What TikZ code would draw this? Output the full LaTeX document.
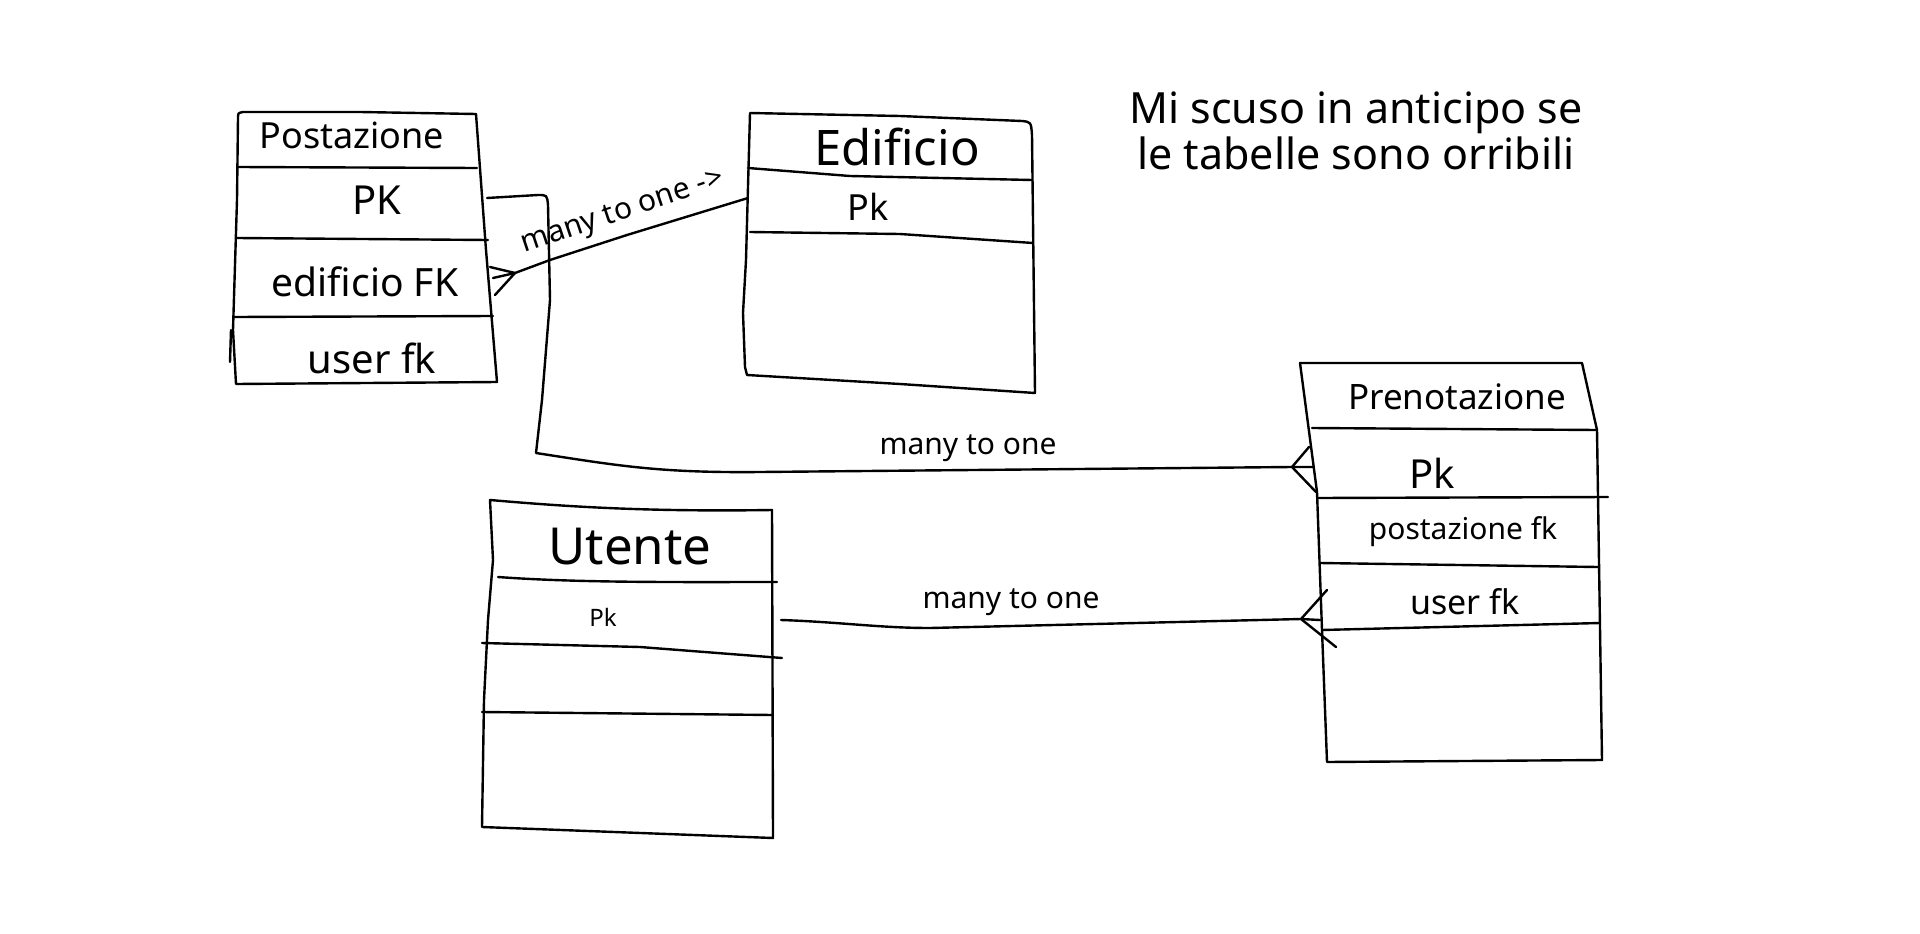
\documentclass[tikz,border=0pt]{standalone}
\usepackage{fontspec}
\setmainfont{Noto Sans}
\begin{document}
\begin{tikzpicture}[x=1pt, y=-1pt, line width=2.4pt, line join=round, line cap=round]
	\tikzset{
		cell/.style={inner sep=0pt},
		rel/.style={inner sep=0pt, font=\fontsize{30}{34}\selectfont},
	}
	% Define the page
	\useasboundingbox[fill=white] (0,0) rectangle (1920,934);

	% Postazione table
	\draw (243,112) -- (360,112) -- (476,114) -- (486,250) -- (497,382) -- (236,384) -- (233,330) -- (237,200) -- (238,118) .. controls (238,113) .. (243,112);
	\draw (238,167) -- (477,168);
	\draw (237,238) -- (488,240);
	\draw (234,317) -- (493,316);
	\draw (231,330) -- (230,362);
	\node[cell, font=\fontsize{36}{40}\selectfont] (pos-name) at (352,135) {Postazione};
	\node[cell, font=\fontsize{40}{44}\selectfont] (pos-pk) at (377,200) {PK};
	\node[cell, font=\fontsize{39}{44}\selectfont] (pos-edi) at (365,282) {edificio FK};
	\node[cell, font=\fontsize{40}{44}\selectfont] (pos-user) at (372,358) {user fk};

	% Edificio table
	\draw (750,113) -- (900,116) -- (1022,121) .. controls (1031,122) .. (1032,135) -- (1035,393) -- (900,384) -- (747,375) -- (745,367) -- (743,313) -- (746,260) -- cycle;
	\draw (748,168) -- (850,176) -- (1032,180);
	\draw (750,232) -- (900,234) -- (1033,243);
	\node[cell, font=\fontsize{49}{54}\selectfont] (edi-name) at (897,147) {Edificio};
	\node[cell, font=\fontsize{36}{40}\selectfont] (edi-pk) at (868,207) {Pk};

	% Prenotazione table
	\draw (1300,363) -- (1582,363) -- (1597,430) -- (1602,760) -- (1327,762) -- (1322,630) -- (1317,492) -- cycle;
	\draw (1312,428) -- (1597,430);
	\draw (1317,498) -- (1608,497);
	\draw (1320,563) -- (1598,567);
	\draw (1322,630) -- (1600,623);
	\node[cell, font=\fontsize{35}{40}\selectfont] (pre-name) at (1457,397) {Prenotazione};
	\node[cell, font=\fontsize{40}{44}\selectfont] (pre-pk) at (1432,473) {Pk};
	\node[cell, font=\fontsize{30}{34}\selectfont] (pre-pos) at (1463,532) {postazione fk};
	\node[cell, font=\fontsize{34}{38}\selectfont] (pre-user) at (1465,602) {user fk};

	% Utente table
	\draw (490,500) .. controls (560,506) and (640,512) .. (772,510) -- (773,838) -- (482,827) -- (484,700) -- (488,620) -- (493,560) -- cycle;
	\draw (498,577) .. controls (580,583) and (680,582) .. (777,582);
	\draw (482,643) -- (640,647) -- (782,658);
	\draw (482,712) -- (773,715);
	\node[cell, font=\fontsize{51}{56}\selectfont] (ute-name) at (630,547) {Utente};
	\node[cell, font=\fontsize{24}{28}\selectfont] (ute-pk) at (603,617) {Pk};

	% Define the connection points
	\coordinate (pos-out) at (487,198);
	\coordinate (pos-fk) at (515,273);
	\coordinate (edi-in) at (748,198);
	\coordinate (pre-in) at (1292,467);
	\coordinate (pre-pkedge) at (1313,467);
	\coordinate (ute-out) at (781,620);
	\coordinate (pre-fk) at (1301,619);
	\coordinate (pre-fkedge) at (1320,620);

	% Draw the relations with labels
	\draw (pos-fk) -- (550,260) -- (627,235) -- (edi-in);
	\draw (490,267) -- (pos-fk);
	\draw (493,278) -- (pos-fk);
	\draw (495,295) -- (pos-fk);
	\node[rel, rotate=18.5] (rel-edi) at (623,213) {many to one ->};

	\draw (pos-out) -- (538,195) .. controls (547,195) .. (548,205) -- (550,300) -- (542,400) -- (536,453) .. controls (620,466) and (660,473) .. (760,472) -- (pre-in) -- (pre-pkedge);
	\draw (1309,447) -- (pre-in) -- (1316,492);
	\node[rel] (rel-pos) at (968,448) {many to one};

	\draw (ute-out) .. controls (840,622) and (880,628) .. (930,628) -- (pre-fk) -- (pre-fkedge);
	\draw (1327,590) -- (pre-fk) -- (1336,647);
	\node[rel] (rel-ute) at (1011,602) {many to one};

	% Note
	\node[cell, align=center, font=\fontsize{43}{46}\selectfont] (note) at (1356,131) {Mi scuso in anticipo se\\le tabelle sono orribili};
\end{tikzpicture}
\end{document}
